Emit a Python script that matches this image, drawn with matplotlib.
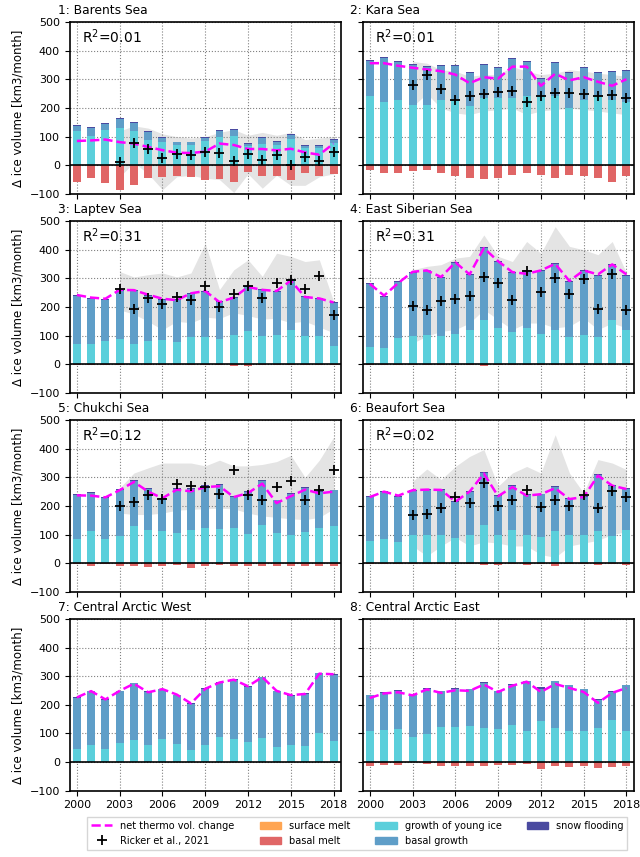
import numpy as np
import matplotlib
matplotlib.use("Agg")
import matplotlib.pyplot as plt
from matplotlib.lines import Line2D
from matplotlib.patches import Patch

years = list(range(2000, 2019))
ricker_years = list(range(2003, 2019))

names = ["1: Barents Sea", "2: Kara Sea", "3: Laptev Sea", "4: East Siberian Sea",
         "5: Chukchi Sea", "6: Beaufort Sea", "7: Central Arctic West", "8: Central Arctic East"]
r2_labels = ["0.01", "0.01", "0.31", "0.31", "0.12", "0.02", None, None]

surface_melt = [0, 0, 0, 0, 0, 0, 0, 0, 0, 0, 0, 0, 0, 0, 0, 0, 0, 0, 0]

# growth of young ice
young_barents = [119, 103, 124, 131, 119, 90, 80, 70, 70, 84, 99, 103, 66, 76, 70, 92, 62, 60, 78]
young_kara = [241, 220, 230, 210, 210, 230, 225, 208, 237, 237, 237, 241, 241, 241, 200, 227, 241, 230, 220]
young_laptev = [70, 70, 80, 87, 72, 80, 84, 76, 94, 95, 87, 102, 115, 99, 102, 119, 99, 99, 64]
young_esib = [60, 56, 91, 98, 102, 98, 107, 119, 156, 126, 113, 128, 107, 121, 94, 101, 94, 153, 119]
young_chukchi = [83, 112, 84, 94, 131, 117, 112, 106, 117, 124, 120, 123, 101, 135, 106, 98, 110, 124, 129]
young_beaufort = [77, 86, 73, 100, 100, 98, 87, 100, 135, 100, 117, 98, 91, 112, 98, 98, 114, 94, 117]
young_caw = [47, 60, 47, 66, 77, 59, 81, 64, 41, 59, 88, 79, 70, 84, 52, 59, 55, 103, 74]
young_cae = [108, 112, 117, 88, 99, 122, 122, 126, 119, 115, 129, 108, 145, 119, 110, 107, 119, 147, 110]

# basal growth
basal_barents = [19, 27, 22, 32, 30, 28, 17, 10, 10, 13, 22, 22, 10, 19, 12, 15, 6, 8, 11]
basal_kara = [123, 155, 131, 142, 134, 117, 122, 116, 113, 103, 134, 120, 62, 118, 124, 113, 83, 97, 111]
basal_laptev = [169, 158, 145, 170, 184, 160, 141, 149, 151, 159, 131, 130, 156, 160, 152, 175, 135, 129, 149]
basal_esib = [221, 179, 197, 222, 226, 204, 248, 194, 250, 231, 207, 197, 218, 229, 194, 224, 215, 195, 190]
basal_chukchi = [156, 134, 144, 162, 157, 143, 112, 154, 143, 146, 153, 109, 148, 153, 113, 143, 153, 125, 125]
basal_beaufort = [154, 163, 158, 153, 155, 157, 126, 149, 181, 135, 152, 141, 149, 155, 126, 134, 195, 175, 143]
basal_caw = [176, 187, 169, 181, 198, 185, 173, 169, 161, 197, 189, 209, 192, 212, 195, 171, 182, 207, 232]
basal_cae = [125, 130, 132, 145, 158, 125, 135, 128, 159, 132, 142, 174, 110, 163, 158, 147, 97, 97, 158]

# snow flooding
snow_std = [3, 3, 3, 3, 3, 3, 3, 3, 3, 3, 3, 3, 3, 3, 3, 3, 3, 3, 3]
snow_cae = [3, 3, 3, 3, 3, 3, 3, 3, 3, 3, 3, 3, 9, 3, 3, 3, 3, 3, 3]

# basal melt
melt_barents = [-59, -45, -63, -87, -70, -45, -42, -38, -42, -53, -49, -59, -24, -38, -38, -53, -28, -38, -31]
melt_kara = [-15, -26, -26, -19, -15, -26, -36, -43, -47, -43, -33, -26, -33, -43, -33, -36, -43, -57, -36]
melt_laptev = [-1, -1, -1, -1, -1, -1, -1, -1, -1, -1, -1, -6, -6, -1, -1, -1, -1, -1, -1]
melt_esib = [-1, -1, -1, -1, -1, -1, -1, -1, -6, -1, -1, -1, -1, -1, -1, -1, -1, -1, -1]
melt_chukchi = [-3, -9, -3, -9, -9, -13, -9, -7, -16, -9, -6, -9, -9, -9, -9, -9, -9, -9, -9]
melt_beaufort = [-3, -3, -3, -3, -3, -3, -3, -3, -7, -7, -3, -7, -3, -10, -3, -3, -7, -3, -7]
melt_caw = [-1, -1, -1, -1, -1, -1, -1, -1, -1, -1, -1, -1, -1, -1, -1, -1, -1, -1, -1]
melt_cae = [-13, -9, -9, -1, -6, -13, -13, -13, -13, -9, -9, -6, -23, -13, -16, -13, -20, -16, -13]

# net thermodynamic volume change
net_barents = [85, 87, 90, 81, 76, 64, 53, 44, 43, 48, 76, 71, 57, 57, 52, 58, 45, 37, 76]
net_kara = [357, 357, 348, 341, 335, 329, 317, 287, 308, 303, 345, 345, 278, 320, 297, 308, 292, 278, 301]
net_laptev = [242, 233, 229, 260, 259, 243, 229, 224, 248, 256, 217, 233, 270, 260, 256, 292, 235, 230, 216]
net_esib = [281, 240, 284, 323, 328, 305, 356, 314, 406, 360, 322, 316, 328, 351, 291, 328, 314, 349, 314]
net_chukchi = [237, 236, 230, 255, 284, 250, 227, 257, 251, 266, 269, 231, 245, 278, 210, 234, 257, 244, 250]
net_beaufort = [231, 250, 236, 255, 257, 256, 215, 250, 313, 234, 266, 236, 241, 262, 224, 231, 306, 271, 259]
net_caw = [226, 248, 219, 249, 274, 244, 255, 236, 205, 256, 278, 288, 265, 297, 249, 234, 238, 309, 307]
net_cae = [224, 240, 244, 233, 254, 242, 251, 249, 271, 245, 267, 281, 245, 273, 259, 245, 207, 242, 259]

# Ricker et al., 2021 with range
ricker_barents = [12, 78, 58, 26, 38, 35, 48, 44, 16, 41, 19, 35, 2, 28, 14, 45]
lo_barents = [-40, 10, -30, -85, -40, -35, -45, -50, -95, -30, -80, -35, -70, -70, -40, -30]
hi_barents = [120, 138, 130, 110, 100, 95, 100, 115, 125, 105, 115, 105, 115, 90, 95, 100]
ricker_kara = [280, 317, 266, 227, 241, 250, 258, 260, 222, 241, 252, 252, 248, 241, 245, 237]
lo_kara = [206, 250, 200, 183, 177, 190, 194, 200, 177, 190, 195, 200, 195, 190, 183, 177]
hi_kara = [363, 357, 334, 329, 311, 317, 317, 345, 329, 317, 322, 334, 329, 322, 317, 311]
ricker_laptev = [264, 194, 231, 210, 234, 223, 272, 199, 247, 273, 231, 284, 295, 264, 309, 172]
lo_laptev = [190, 175, 150, 120, 150, 145, 165, 160, 180, 170, 158, 160, 145, 150, 130, 110]
hi_laptev = [324, 305, 313, 319, 305, 319, 423, 261, 330, 365, 307, 388, 377, 359, 365, 220]
ricker_esib = [205, 191, 221, 228, 237, 305, 284, 223, 327, 251, 302, 244, 298, 194, 314, 191]
lo_esib = [74, 98, 115, 121, 144, 191, 156, 121, 144, 144, 127, 133, 162, 121, 144, 127]
hi_esib = [330, 342, 348, 371, 377, 452, 377, 359, 429, 388, 481, 412, 400, 383, 429, 319]
ricker_chukchi = [201, 214, 238, 224, 276, 271, 265, 240, 327, 237, 222, 266, 288, 222, 257, 327]
lo_chukchi = [175, 170, 170, 175, 185, 188, 190, 192, 190, 175, 165, 160, 155, 152, 160, 190]
hi_chukchi = [263, 315, 333, 350, 350, 350, 340, 360, 340, 340, 345, 355, 377, 300, 360, 440]
ricker_beaufort = [167, 172, 193, 231, 210, 280, 199, 220, 257, 197, 220, 201, 237, 192, 253, 231]
lo_beaufort = [60, 25, 60, 90, 60, 75, 70, 60, 60, 30, 20, 60, 70, 80, 100, 110]
hi_beaufort = [286, 329, 292, 338, 373, 397, 269, 315, 338, 315, 449, 315, 245, 362, 350, 327]

young = [young_barents, young_kara, young_laptev, young_esib,
         young_chukchi, young_beaufort, young_caw, young_cae]
basal = [basal_barents, basal_kara, basal_laptev, basal_esib,
         basal_chukchi, basal_beaufort, basal_caw, basal_cae]
snow = [snow_std] * 7 + [snow_cae]
melt = [melt_barents, melt_kara, melt_laptev, melt_esib,
        melt_chukchi, melt_beaufort, melt_caw, melt_cae]
net = [net_barents, net_kara, net_laptev, net_esib,
       net_chukchi, net_beaufort, net_caw, net_cae]
ricker = [ricker_barents, ricker_kara, ricker_laptev, ricker_esib,
          ricker_chukchi, ricker_beaufort, None, None]
ricker_lo = [lo_barents, lo_kara, lo_laptev, lo_esib, lo_chukchi, lo_beaufort, None, None]
ricker_hi = [hi_barents, hi_kara, hi_laptev, hi_esib, hi_chukchi, hi_beaufort, None, None]

c_young = "#5bcfdb"
c_basal = "#5f9ec8"
c_snow = "#4a4aa0"
c_melt = "#e06666"
c_surf = "#ffa552"
c_net = "#ff00ff"

fig, axes = plt.subplots(4, 2, figsize=(6.4, 8.57), dpi=100, sharex=True, sharey=True)
fig.subplots_adjust(left=0.109, right=0.99, bottom=0.0774, top=0.974, wspace=0.081, hspace=0.159)

w = 0.56
for i, ax in enumerate(axes.flat):
    y = np.array(young[i])
    b = np.array(basal[i])
    s = np.array(snow[i])
    sm = np.array(surface_melt)
    bm = np.array(melt[i])

    ax.set_axisbelow(True)
    ax.grid(True, ls=":", color="grey", lw=0.8)

    if ricker[i] is not None:
        ax.fill_between(ricker_years, ricker_lo[i], ricker_hi[i],
                        color="#e4e4e4", lw=0, zorder=0.3)

    ax.bar(years, y, w, color=c_young, zorder=2)
    ax.bar(years, b, w, bottom=y, color=c_basal, zorder=2)
    ax.bar(years, s, w, bottom=y + b, color=c_snow, zorder=2)
    ax.bar(years, sm, w, color=c_surf, zorder=2)
    ax.bar(years, bm, w, bottom=sm, color=c_melt, zorder=2)

    ax.axhline(0, color="k", lw=1.2, zorder=3)
    ax.plot(years, net[i], "--", color=c_net, lw=1.8, zorder=4)

    if ricker[i] is not None:
        ax.plot(ricker_years, ricker[i], "+", color="k", ms=7.5, mew=1.3, zorder=5)

    if r2_labels[i] is not None:
        ax.text(0.045, 0.972, "R$^2$=" + r2_labels[i], transform=ax.transAxes,
                fontsize=10, ha="left", va="top")

    ax.text(-0.045, 1.03, names[i], transform=ax.transAxes, fontsize=8.8,
            ha="left", va="bottom")

    for sp in ax.spines.values():
        sp.set_linewidth(1.2)

    ax.set_xlim(1999.5, 2018.5)
    ax.set_ylim(-100, 500)
    ax.set_xticks(range(2000, 2019, 3))
    ax.set_yticks(range(-100, 501, 100))
    ax.tick_params(labelsize=8)
    if i % 2 == 0:
        ax.set_ylabel("Δ ice volume [km3/month]", fontsize=8.5)

handles = [
    Line2D([], [], color=c_net, ls="--", lw=1.8),
    Line2D([], [], color="k", marker="+", ls="none", ms=7.5, mew=1.3),
    Patch(color=c_surf),
    Patch(color=c_melt),
    Patch(color=c_young),
    Patch(color=c_basal),
    Patch(color=c_snow),
]
labels = ["net thermo vol. change", "Ricker et al., 2021", "surface melt", "basal melt",
          "growth of young ice", "basal growth", "snow flooding"]
fig.legend(handles, labels, loc="lower center", bbox_to_anchor=(0.558, 0.003),
           ncol=4, fontsize=7, frameon=True, fancybox=False, edgecolor="#cccccc",
           columnspacing=2.6, handlelength=2.2)

fig.savefig("out.png", dpi=100)
